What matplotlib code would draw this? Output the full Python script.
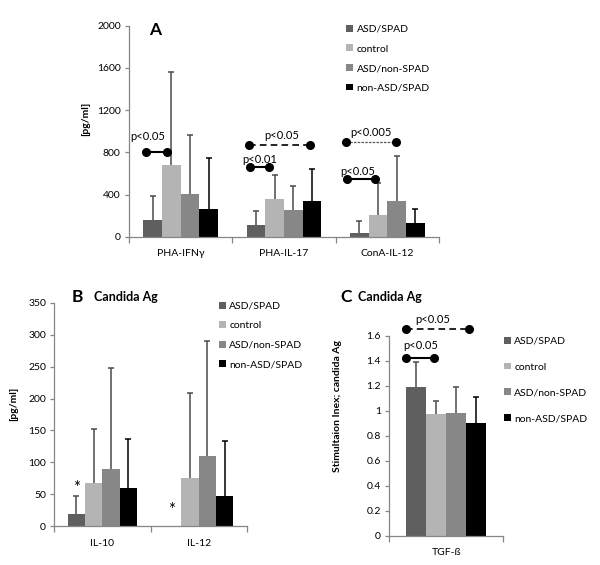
import numpy as np
import matplotlib
matplotlib.use('Agg')
import matplotlib.pyplot as plt
from matplotlib.ticker import FormatStrFormatter, FixedLocator

plt.rcParams['font.family'] = ['Lato', 'DejaVu Sans']

# series shared by all panels
series = ['ASD/SPAD', 'control', 'ASD/non-SPAD', 'non-ASD/SPAD']
colors = ['#5f5f5f', '#b4b4b4', '#878787', '#000000']
err_colors = ['#4a4a4a', '#4a4a4a', '#4a4a4a', '#000000']

# panel A: cytokines (pg/ml)
a_groups = ['PHA-IFNγ', 'PHA-IL-17', 'ConA-IL-12']
a_asd_spad = [160, 114, 39]
a_control = [679, 354, 203]
a_asd_nonspad = [404, 253, 335]
a_nonasd_spad = [263, 341, 133]
a_sd_asd_spad = [225, 127, 107]
a_sd_control = [881, 230, 305]
a_sd_asd_nonspad = [564, 224, 435]
a_sd_nonasd_spad = [485, 306, 127]

# panel B: Candida Ag (pg/ml)
b_groups = ['IL-10', 'IL-12']
b_asd_spad = [19, 0]
b_control = [67, 75]
b_asd_nonspad = [90, 110]
b_nonasd_spad = [60, 48]
b_sd_asd_spad = [28, 0]
b_sd_control = [85, 134]
b_sd_asd_nonspad = [158, 180]
b_sd_nonasd_spad = [76, 86]

# panel C: stimulation index
c_groups = ['TGF-ß']
c_values = [1.19, 0.97, 0.98, 0.90]
c_sd = [0.20, 0.11, 0.21, 0.21]

axis_gray = '#868686'
bar_w = 0.18
offsets = [-0.27, -0.09, 0.09, 0.27]


def style_axis(ax, ngroups, ymax, ystep):
    for s in ['top', 'right']:
        ax.spines[s].set_visible(False)
    for s in ['left', 'bottom']:
        ax.spines[s].set_color(axis_gray)
        ax.spines[s].set_linewidth(0.9)
    ax.set_xlim(-0.5, ngroups - 0.5)
    ax.set_ylim(0, ymax)
    ax.set_yticks(np.arange(0, ymax + ystep / 2, ystep))
    ax.yaxis.set_major_formatter(FormatStrFormatter('%g'))
    ax.set_xticks(range(ngroups))
    ax.xaxis.set_minor_locator(FixedLocator(np.arange(-0.5, ngroups, 1.0)))
    ax.tick_params(axis='x', which='major', length=0, labelsize=7.5, pad=9)
    ax.tick_params(axis='x', which='minor', length=4, color=axis_gray, width=0.9)
    ax.tick_params(axis='y', length=3, color=axis_gray, width=0.9, labelsize=7.5, pad=3)


def draw_bars(ax, groups, means, sds, width=bar_w, offs=offsets):
    x = np.arange(len(groups))
    handles = []
    for i in range(4):
        h = ax.bar(x + offs[i], means[i], width, color=colors[i], label=series[i])
        handles.append(h)
        m = np.array(means[i], dtype=float)
        sd = np.array(sds[i], dtype=float)
        keep = sd > 0
        eb = ax.errorbar((x + offs[i])[keep], m[keep], yerr=[np.zeros(keep.sum()), sd[keep]],
                         fmt='none', ecolor=err_colors[i], elinewidth=1.1, capsize=2.5, capthick=1.1)
        # hide the lower caps (they sit on the bar top)
        eb[1][0].set_visible(False)
    ax.set_xticklabels(groups)
    return handles


def dumbbell(ax, x1, x2, y, ls='-', lw=1.5, color='black'):
    ax.plot([x1, x2], [y, y], color=color, lw=lw, ls=ls, clip_on=False)
    ax.plot([x1, x2], [y, y], 'o', color='black', ms=5.5, clip_on=False)


def add_legend(ax, handles, x, y, spacing):
    ax.legend(handles=handles, loc='upper left', bbox_to_anchor=(x, y),
              bbox_transform=ax.figure.transFigure, frameon=False, fontsize=7.5,
              handlelength=0.65, handleheight=0.65, handletextpad=0.35,
              labelspacing=spacing, borderpad=0, borderaxespad=0)


fig = plt.figure(figsize=(6, 5.65), dpi=100)

# ---- panel A
axA = fig.add_axes([0.215, 0.5809, 0.5167, 0.3736])
hA = draw_bars(axA, a_groups,
               [a_asd_spad, a_control, a_asd_nonspad, a_nonasd_spad],
               [a_sd_asd_spad, a_sd_control, a_sd_asd_nonspad, a_sd_nonasd_spad])
style_axis(axA, 3, 2000, 400)
axA.set_xticklabels(a_groups)
dumbbell(axA, -0.336, -0.133, 805)
axA.text(-0.32, 953, 'p<0.05', ha='center', va='center', fontsize=8)
dumbbell(axA, 1 - 0.331, 1 - 0.147, 657)
axA.text(1 - 0.24, 733, 'p<0.01', ha='center', va='center', fontsize=8)
dumbbell(axA, 1 - 0.341, 1 + 0.256, 874, ls=(0, (4, 2.5)), lw=1.2)
axA.text(1 - 0.025, 962, 'p<0.05', ha='center', va='center', fontsize=8)
dumbbell(axA, 2 - 0.391, 2 - 0.123, 543)
axA.text(2 - 0.29, 622, 'p<0.05', ha='center', va='center', fontsize=8)
dumbbell(axA, 2 - 0.397, 2 + 0.086, 899, ls=(0, (2, 1)), lw=0.9, color='#555555')
axA.text(2 - 0.155, 984, 'p<0.005', ha='center', va='center', fontsize=8)
fig.text(0.1428, 0.790, '[pg/ml]', rotation=90, ha='center', va='center',
         fontsize=7.5, fontweight='bold')
fig.text(0.248, 0.947, 'A', ha='left', va='center', fontsize=12.5, fontweight='bold')
add_legend(axA, hA, 0.577, 0.956, 1.0)

# ---- panel B
axB = fig.add_axes([0.0905, 0.0685, 0.321, 0.3957])
hB = draw_bars(axB, b_groups,
               [b_asd_spad, b_control, b_asd_nonspad, b_nonasd_spad],
               [b_sd_asd_spad, b_sd_control, b_sd_asd_nonspad, b_sd_nonasd_spad])
style_axis(axB, 2, 350, 50)
axB.set_xticklabels(b_groups)
axB.text(-0.27, 60, '*', ha='center', va='center', fontsize=12)
axB.text(1 - 0.284, 25, '*', ha='center', va='center', fontsize=12)
fig.text(0.0233, 0.285, '[pg/ml]', rotation=90, ha='center', va='center',
         fontsize=7.5, fontweight='bold')
fig.text(0.120, 0.475, 'B', ha='left', va='center', fontsize=12.5, fontweight='bold')
fig.text(0.157, 0.474, 'Candida Ag', ha='left', va='center', fontsize=9, fontweight='bold')
add_legend(axB, hB, 0.365, 0.466, 1.0)

# ---- panel C
axC = fig.add_axes([0.6488, 0.0522, 0.1895, 0.3536])
c_w = 0.175
c_offs = [-0.2625, -0.0875, 0.0875, 0.2625]
hC = draw_bars(axC, c_groups, [[v] for v in c_values], [[s] for s in c_sd],
               width=c_w, offs=c_offs)
style_axis(axC, 1, 1.6, 0.2)
axC.set_xticklabels(c_groups)
dumbbell(axC, -0.351, -0.105, 1.42)
axC.text(-0.228, 1.52, 'p<0.05', ha='center', va='center', fontsize=8)
dumbbell(axC, -0.357, 0.199, 1.65, ls=(0, (4, 2.5)), lw=1.2)
axC.text(-0.114, 1.73, 'p<0.05', ha='center', va='center', fontsize=8)
fig.text(0.5617, 0.2814, 'Stimultaion Inex; candida Ag', rotation=90, ha='center',
         va='center', fontsize=7.5, fontweight='bold')
fig.text(0.568, 0.475, 'C', ha='left', va='center', fontsize=12.5, fontweight='bold')
fig.text(0.597, 0.474, 'Candida Ag', ha='left', va='center', fontsize=9, fontweight='bold')
add_legend(axC, hC, 0.840, 0.404, 1.6)

fig.savefig('out.png', dpi=100, facecolor='white')
